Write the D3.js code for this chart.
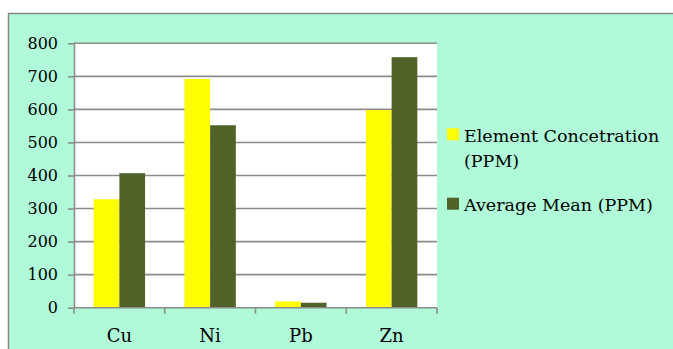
<!DOCTYPE html>
<html>
<head>
<meta charset="utf-8">
<script src="https://cdn.jsdelivr.net/npm/d3@7"></script>
<style>
  html, body { margin: 0; padding: 0; background: #ffffff; }
  svg { display: block; }
  text { font-family: "DejaVu Serif", serif; fill: #000; }
</style>
</head>
<body>
<svg id="chart" width="673" height="349"></svg>
<script>
// Element concentrations vs. average mean, in PPM
const categories = ["Cu", "Ni", "Pb", "Zn"];
const seriesNames = ["Element Concetration (PPM)", "Average Mean (PPM)"];
const elementConcentration = [328, 692, 19, 598];
const averageMean = [407, 552, 15, 758];
const yTicks = [0, 100, 200, 300, 400, 500, 600, 700, 800];
const seriesColors = ["#ffff00", "#4f6228"];

const seriesValues = [elementConcentration, averageMean];
const rows = categories.map((c, i) => ({
  category: c,
  values: seriesValues.map((vals, s) => ({ series: s, value: vals[i] }))
}));

const svg = d3.select("#chart");
const W = 673, H = 349;

// Chart area background
svg.append("rect")
  .attr("x", 8.5).attr("y", 13.5)
  .attr("width", W).attr("height", H)
  .attr("fill", "#b0f9d9")
  .attr("stroke", "#878787")
  .attr("stroke-width", 1.5);

const plot = { left: 74, right: 437, top: 43.3, bottom: 307.7 };

const x0 = d3.scaleBand()
  .domain(categories)
  .range([plot.left, plot.right])
  .paddingInner(0).paddingOuter(0);

const x1 = d3.scaleBand()
  .domain(d3.range(seriesNames.length))
  .range([0, x0.bandwidth()])
  .paddingInner(0).paddingOuter(0.766);

const y = d3.scaleLinear()
  .domain([0, 800])
  .range([plot.bottom, plot.top]);

// Plot area
svg.append("rect")
  .attr("x", plot.left).attr("y", plot.top)
  .attr("width", plot.right - plot.left)
  .attr("height", plot.bottom - plot.top)
  .attr("fill", "#ffffff");

// Gridlines
svg.append("g")
  .selectAll("line")
  .data(yTicks.filter(t => t > 0))
  .join("line")
  .attr("x1", plot.left).attr("x2", plot.right)
  .attr("y1", d => y(d)).attr("y2", d => y(d))
  .attr("stroke", "#8c8c8c")
  .attr("stroke-width", 1.6);

// Bars
const groups = svg.append("g")
  .selectAll("g")
  .data(rows)
  .join("g")
  .attr("transform", d => `translate(${x0(d.category)},0)`);

groups.selectAll("rect")
  .data(d => d.values)
  .join("rect")
  .attr("x", d => x1(d.series))
  .attr("width", x1.bandwidth())
  .attr("y", d => y(d.value))
  .attr("height", d => y(0) - y(d.value))
  .attr("fill", d => seriesColors[d.series]);

// Y axis
const yAxis = svg.append("g")
  .attr("transform", `translate(${plot.left},0)`)
  .call(d3.axisLeft(y).tickValues(yTicks).tickSize(6).tickPadding(10).tickSizeOuter(0));
yAxis.select(".domain").attr("stroke", "#8c8c8c").attr("stroke-width", 1.6);
yAxis.selectAll(".tick line").attr("stroke", "#8c8c8c").attr("stroke-width", 1.6);
yAxis.selectAll(".tick text")
  .style("font-family", "DejaVu Serif, serif")
  .style("font-size", "16px")
  .attr("fill", "#000");

// X axis: baseline with ticks at category boundaries
const xAxisG = svg.append("g");
xAxisG.append("line")
  .attr("x1", plot.left).attr("x2", plot.right)
  .attr("y1", plot.bottom).attr("y2", plot.bottom)
  .attr("stroke", "#8c8c8c").attr("stroke-width", 1.6);
const boundaries = categories.map(c => x0(c)).concat([x0(categories[categories.length - 1]) + x0.bandwidth()]);
xAxisG.selectAll("line.tk")
  .data(boundaries)
  .join("line")
  .attr("class", "tk")
  .attr("x1", d => d).attr("x2", d => d)
  .attr("y1", plot.bottom).attr("y2", plot.bottom + 6)
  .attr("stroke", "#8c8c8c").attr("stroke-width", 1.6);
xAxisG.selectAll("text")
  .data(categories)
  .join("text")
  .attr("x", d => x0(d) + x0.bandwidth() / 2)
  .attr("y", 341.5)
  .attr("text-anchor", "middle")
  .style("font-size", "18px")
  .text(d => d);

// Legend
const legend = svg.append("g");
const legendItems = [
  { lines: ["Element Concetration", "(PPM)"], color: seriesColors[0], sy: 128.3, ty: 141.7 },
  { lines: ["Average Mean (PPM)"], color: seriesColors[1], sy: 197.7, ty: 211 }
];
legendItems.forEach(item => {
  legend.append("rect")
    .attr("x", 447).attr("y", item.sy)
    .attr("width", 12).attr("height", 12)
    .attr("fill", item.color);
  const t = legend.append("text")
    .attr("x", 464).attr("y", item.ty)
    .style("font-size", "17.5px");
  item.lines.forEach((ln, i) => {
    t.append("tspan").attr("x", 464).attr("dy", i === 0 ? 0 : 25).text(ln);
  });
});
</script>
</body>
</html>
